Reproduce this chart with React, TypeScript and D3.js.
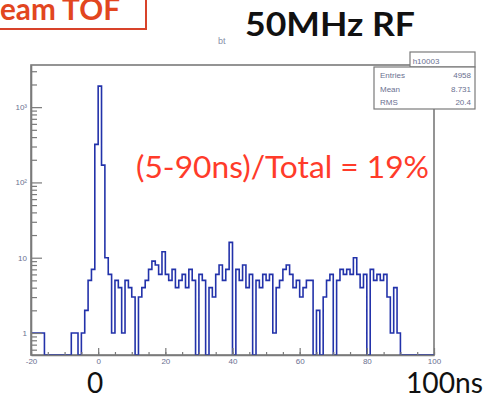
import React, { useEffect, useRef } from "react";
import * as d3 from "d3";

// histogram h10003: 1 ns bins starting at -20 ns
const binStart = -20;
const binWidth = 1;
const counts = [
  1, 1, 1, 1, 0, 0, 0, 0, 0, 0, 0, 0,
  1, 1, 0, 1, 2, 5, 7, 320,
  1900, 170, 10, 6, 1, 5, 4, 1, 5, 4,
  3, 0, 3, 4, 5, 7, 9, 8, 6, 12,
  6, 5, 7, 4, 5, 6, 4, 7, 5, 0,
  6, 5, 0, 4, 3, 6, 8, 5, 7, 16,
  0, 7, 5, 8, 4, 6, 0, 5, 4, 6,
  5, 6, 1, 4, 5, 7, 8, 6, 4, 5,
  3, 4, 5, 5, 0, 2, 0, 3, 5, 6,
  0, 5, 7, 6, 7, 6, 10, 6, 4, 6,
  0, 7, 5, 6, 5, 6, 3, 1, 4, 1,
  0, 0, 0, 0, 0, 0, 0, 0, 0, 0,
];
const xTicks = [-20, 0, 20, 40, 60, 80, 100];
const yTicks = [1, 10, 100, 1000];
const yTickLabels = ["1", "10", "10²", "10³"];
const statsLabels = ["Entries", "Mean", "RMS"];
const statsValues = ["4958", "8.731", "20.4"];
const histName = "h10003";

const App: React.FC = () => {
  const ref = useRef<SVGSVGElement>(null);

  useEffect(() => {
    drawChart();
  }, []);

  const drawChart = () => {
    const svg = d3.select(ref.current);
    svg.selectAll("*").remove();

    const frame = { left: 31, right: 434, top: 65, bottom: 355 };
    const frameColor = "#7a7a7a";
    const tinyColor = "#6a7090";

    // soft blur, the original is a scaled screenshot
    const defs = svg.append("defs");
    defs
      .append("filter")
      .attr("id", "soft")
      .append("feGaussianBlur")
      .attr("stdDeviation", 0.45);

    // X scale
    const x = d3.scaleLinear().domain([-20, 100]).range([frame.left, frame.right]);
    // Y scale (log)
    const y = d3.scaleLog().domain([0.51, 3630]).range([frame.bottom, frame.top]);

    // frame
    svg
      .append("rect")
      .attr("x", frame.left)
      .attr("y", frame.top)
      .attr("width", frame.right - frame.left)
      .attr("height", frame.bottom - frame.top)
      .attr("fill", "white")
      .attr("stroke", frameColor)
      .attr("stroke-width", 1.6);

    // histogram
    const pts: [number, number][] = counts.map((c, i) => [binStart + i * binWidth, c]);
    pts.push([binStart + counts.length * binWidth, counts[counts.length - 1]]);
    const line = d3
      .line<[number, number]>()
      .x((d) => x(d[0]))
      .y((d) => (d[1] > 0 ? y(d[1]) : frame.bottom))
      .curve(d3.curveStepAfter);

    svg
      .append("path")
      .attr("d", line(pts))
      .attr("fill", "none")
      .attr("stroke", "#2433aa")
      .attr("stroke-width", 1.6)
      .attr("filter", "url(#soft)");

    // x axis: major + minor ticks pointing inward
    const xAxis = svg
      .append("g")
      .attr("transform", `translate(0,${frame.bottom})`)
      .call(
        d3
          .axisBottom(x)
          .tickValues(xTicks)
          .tickSizeInner(-7)
          .tickSizeOuter(0)
          .tickPadding(3)
          .tickFormat((d) => String(d))
      );
    svg
      .append("g")
      .attr("transform", `translate(0,${frame.bottom})`)
      .call(
        d3
          .axisBottom(x)
          .tickValues(d3.range(-20, 101, 5))
          .tickSizeInner(-3)
          .tickSizeOuter(0)
          .tickFormat(() => "")
      )
      .select(".domain")
      .remove();

    // y axis
    const minor: number[] = [];
    [0.1, 1, 10, 100, 1000].forEach((dec) => {
      for (let k = 2; k <= 9; k++) {
        const v = dec * k;
        if (v >= 0.51 && v <= 3630) minor.push(v);
      }
    });
    const yAxis = svg
      .append("g")
      .attr("transform", `translate(${frame.left},0)`)
      .call(
        d3
          .axisLeft(y)
          .tickValues(yTicks)
          .tickSizeInner(-11)
          .tickSizeOuter(0)
          .tickPadding(4)
          .tickFormat((d, i) => yTickLabels[i])
      );
    svg
      .append("g")
      .attr("transform", `translate(${frame.left},0)`)
      .call(
        d3
          .axisLeft(y)
          .tickValues(minor)
          .tickSizeInner(-6)
          .tickSizeOuter(0)
          .tickFormat(() => "")
      )
      .select(".domain")
      .remove();

    svg.selectAll(".tick line").attr("stroke", frameColor).attr("stroke-width", 1.2);
    svg.selectAll(".domain").attr("stroke", frameColor).attr("stroke-width", 1.6);
    [xAxis, yAxis].forEach((g) =>
      g
        .selectAll("text")
        .attr("fill", tinyColor)
        .attr("font-size", 8)
        .attr("font-family", "Liberation Sans")
    );

    // stats box
    const sb = { x0: 374, x1: 475, yTitle: 52, y0: 67, y1: 109, xt: 410 };
    svg
      .append("rect")
      .attr("x", sb.xt)
      .attr("y", sb.yTitle)
      .attr("width", sb.x1 - sb.xt)
      .attr("height", sb.y0 - sb.yTitle)
      .attr("fill", "white")
      .attr("stroke", frameColor)
      .attr("stroke-width", 1.2);
    svg
      .append("text")
      .attr("x", 426)
      .attr("y", 64)
      .attr("text-anchor", "middle")
      .attr("font-size", 8)
      .attr("font-family", "Liberation Sans")
      .attr("fill", tinyColor)
      .text(histName);
    svg
      .append("rect")
      .attr("x", sb.x0)
      .attr("y", sb.y0)
      .attr("width", sb.x1 - sb.x0)
      .attr("height", sb.y1 - sb.y0)
      .attr("fill", "white")
      .attr("stroke", frameColor)
      .attr("stroke-width", 1.2);
    statsLabels.forEach((lab, i) => {
      const yy = 78 + i * 13.5;
      svg
        .append("text")
        .attr("x", sb.x0 + 6)
        .attr("y", yy)
        .attr("font-size", 8)
        .attr("font-family", "Liberation Sans")
        .attr("fill", tinyColor)
        .text(lab);
      svg
        .append("text")
        .attr("x", sb.x1 - 4)
        .attr("y", yy)
        .attr("text-anchor", "end")
        .attr("font-size", 8)
        .attr("font-family", "Liberation Sans")
        .attr("fill", tinyColor)
        .text(statsValues[i]);
    });

    // title
    svg
      .append("text")
      .attr("x", 218)
      .attr("y", 44)
      .attr("font-size", 9)
      .attr("font-family", "Liberation Sans")
      .attr("fill", "#8890a8")
      .text("bt");
    svg
      .append("text")
      .attr("x", 245)
      .attr("y", 36)
      .attr("font-size", 32)
      .attr("font-weight", "bold")
      .attr("font-family", "Lato")
      .attr("fill", "#111")
      .attr("textLength", 170)
      .attr("lengthAdjust", "spacingAndGlyphs")
      .text("50MHz RF");

    // annotation
    svg
      .append("text")
      .attr("x", 136)
      .attr("y", 178)
      .attr("font-size", 30)
      .attr("font-family", "Lato")
      .attr("fill", "#ff3b2a")
      .attr("textLength", 293)
      .attr("lengthAdjust", "spacingAndGlyphs")
      .text("(5-90ns)/Total = 19%");

    // top-left label box (cut by the page edge, as in the original)
    svg
      .append("rect")
      .attr("x", -6)
      .attr("y", -6)
      .attr("width", 152)
      .attr("height", 35)
      .attr("fill", "none")
      .attr("stroke", "#d8432a")
      .attr("stroke-width", 2);
    svg
      .append("text")
      .attr("x", 0)
      .attr("y", 20)
      .attr("font-size", 31)
      .attr("font-weight", "bold")
      .attr("font-family", "Lato")
      .attr("fill", "#e2461f")
      .attr("textLength", 120)
      .attr("lengthAdjust", "spacingAndGlyphs")
      .text("eam TOF");

    // axis captions
    svg
      .append("text")
      .attr("x", 95)
      .attr("y", 393)
      .attr("text-anchor", "middle")
      .attr("font-size", 28)
      .attr("font-family", "Lato")
      .attr("fill", "#111")
      .text("0");
    svg
      .append("text")
      .attr("x", 406)
      .attr("y", 393)
      .attr("font-size", 28)
      .attr("font-family", "Lato")
      .attr("fill", "#111")
      .attr("textLength", 77)
      .attr("lengthAdjust", "spacingAndGlyphs")
      .text("100ns");
  };

  return (
    <svg
      ref={ref}
      width={487}
      height={400}
      style={{ position: "absolute", left: 0, top: 0, background: "white" }}
    ></svg>
  );
};

export default App;
